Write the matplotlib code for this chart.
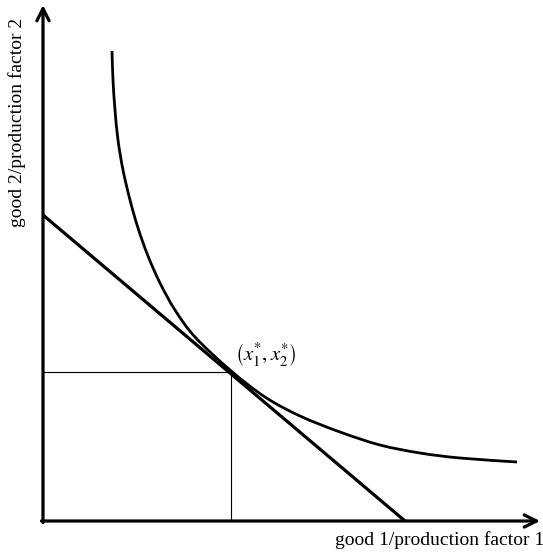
import matplotlib.pyplot as plt
import numpy as np
from matplotlib.path import Path
from matplotlib.patches import PathPatch

plt.rcParams['font.family'] = ['Liberation Serif', 'DejaVu Serif']
plt.rcParams['mathtext.fontset'] = 'stix'

#%% data (origin at the axis corner)

# indifference curve / isoquant
curve_x = [69, 70, 72, 75, 80, 87, 95, 105, 117, 132, 152, 187, 222, 257, 297, 337, 377, 417, 474]
curve_y = [470, 441, 411, 381, 351, 321, 293, 265, 238, 211, 184, 151, 124, 105, 89, 76, 68, 63, 59]

# budget / isocost line
line_x = [0, 362]
line_y = [306, 0]

# optimum
opt_x = 188
opt_y = 149

x_end = 497
y_end = 516

#%% smooth path through the read points (catmull-rom -> bezier)
pts = np.column_stack([curve_x, curve_y]).astype(float)
verts = [pts[0]]
codes = [Path.MOVETO]
n = len(pts)
for i in range(n - 1):
    p0 = pts[max(i - 1, 0)]
    p1 = pts[i]
    p2 = pts[i + 1]
    p3 = pts[min(i + 2, n - 1)]
    verts += [p1 + (p2 - p0) / 6, p2 - (p3 - p1) / 6, p2]
    codes += [Path.CURVE4] * 3
curve_path = Path(verts, codes)

#%% plot
fig = plt.figure(figsize=(5.43, 5.57), dpi=100)
ax = fig.add_axes([0, 0, 1, 1])
ax.set_xlim(-43, 500)
ax.set_ylim(-36, 521)
ax.axis('off')

# axes with arrows
ax.annotate('', xy=(0, y_end), xytext=(0, -1.5),
            arrowprops=dict(arrowstyle='->', lw=2.3, color='black', mutation_scale=22,
                            shrinkA=0, shrinkB=0))
ax.annotate('', xy=(x_end, 0), xytext=(-1.5, 0),
            arrowprops=dict(arrowstyle='->', lw=2.3, color='black', mutation_scale=22,
                            shrinkA=0, shrinkB=0))

# guide lines
ax.plot([0, opt_x], [opt_y, opt_y], color='black', lw=0.8)
ax.plot([opt_x, opt_x], [0, opt_y], color='black', lw=0.8)

ax.plot(line_x, line_y, color='black', lw=2.3, solid_capstyle='butt')
ax.add_patch(PathPatch(curve_path, facecolor='none', edgecolor='black', lw=2.0))

ax.text(opt_x + 4, opt_y + 17, r'$\left(x_1^{*},x_2^{*}\right)$', fontsize=15,
        ha='left', va='center')

ax.text(x_end + 4, -19, 'good 1/production factor 1', fontsize=14,
        ha='right', va='center')
ax.text(-26, 399, 'good 2/production factor 2', fontsize=14,
        rotation=90, ha='center', va='center')

plt.savefig('out.png', dpi=100)
